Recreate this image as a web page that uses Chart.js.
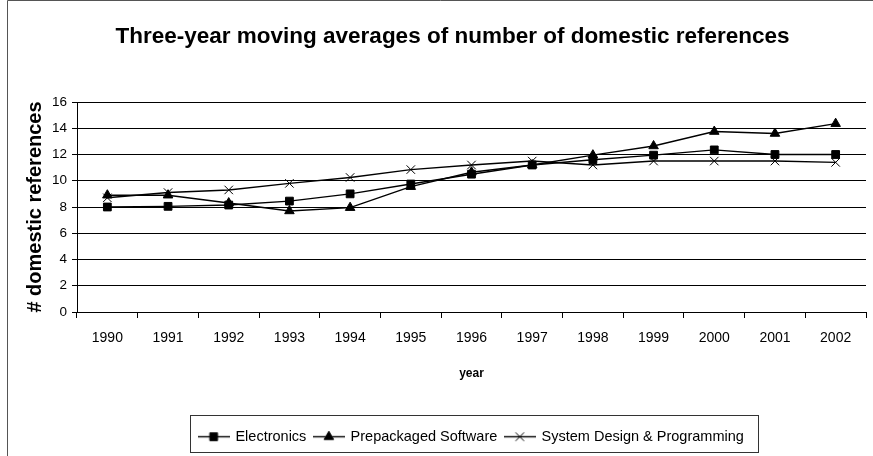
<!DOCTYPE html>
<html>
<head>
<meta charset="utf-8">
<title>Three-year moving averages of number of domestic references</title>
<script src="https://cdn.jsdelivr.net/npm/chart.js@4.4.0/dist/chart.umd.min.js"></script>
<style>
    html, body { margin: 0; padding: 0; background: #fff; overflow: hidden; }
    .chart-box { position: relative; width: 873px; height: 456px; }
</style>
</head>
<body>
<div class="chart-box"><canvas id="refs-chart"></canvas></div>
<script>
const years = ['1990', '1991', '1992', '1993', '1994', '1995', '1996', '1997', '1998', '1999', '2000', '2001', '2002'];
const electronics = [8.0, 8.05, 8.15, 8.45, 9.0, 9.75, 10.5, 11.2, 11.6, 11.95, 12.35, 12.0, 12.0];
const prepackagedSoftware = [8.9, 8.9, 8.3, 7.7, 7.95, 9.55, 10.65, 11.2, 11.95, 12.65, 13.75, 13.6, 14.35];
const systemDesign = [8.7, 9.1, 9.3, 9.8, 10.25, 10.85, 11.2, 11.5, 11.2, 11.5, 11.5, 11.5, 11.4];
const yMin = 0;
const yMax = 16;
const yStep = 2;

const FONT = "'Liberation Sans', Arial, sans-serif";

// legend symbol: short line with the marker in the middle, like Excel
const makeLegendIcon = (pointStyle, radius) => {
    const icon = document.createElement('canvas');
    icon.width = 32;
    icon.height = 13;
    const ctx = icon.getContext('2d');
    ctx.strokeStyle = '#000';
    ctx.fillStyle = '#000';
    ctx.lineWidth = 1.4;
    ctx.beginPath();
    ctx.moveTo(0, 6.5);
    ctx.lineTo(32, 6.5);
    ctx.stroke();
    ctx.lineWidth = 1;
    Chart.helpers.drawPoint(ctx, { pointStyle: pointStyle, radius: radius, rotation: 0, borderWidth: 1 }, 16, 6.5);
    return icon;
};

const series = [
    { label: 'Electronics', data: electronics, pointStyle: 'rect', radius: 5.5 },
    { label: 'Prepackaged Software', data: prepackagedSoftware, pointStyle: 'triangle', radius: 5.5 },
    { label: 'System Design & Programming', data: systemDesign, pointStyle: 'crossRot', radius: 6 }
];
const legendIcons = series.map(s => makeLegendIcon(s.pointStyle, s.radius));

// outer chart border (only left and top edges are in view) + box around the legend
const chartFrame = {
    id: 'chartFrame',
    afterLayout(chart) {
        // Excel centres the title on its own chart area, a bit right of ours
        chart.titleBlock.left += 16;
        chart.titleBlock.right += 16;
    },
    beforeDraw(chart) {
        const ctx = chart.ctx;
        ctx.save();
        ctx.strokeStyle = '#555';
        ctx.lineWidth = 1;
        ctx.beginPath();
        ctx.moveTo(7.5, chart.height);
        ctx.lineTo(7.5, 0.5);
        ctx.lineTo(chart.width, 0.5);
        ctx.stroke();
        ctx.restore();
    },
    afterDraw(chart) {
        const boxes = chart.legend.legendHitBoxes;
        if (!boxes || !boxes.length) return;
        const left = Math.min(...boxes.map(b => b.left)) - 9.5;
        const right = Math.max(...boxes.map(b => b.left + b.width)) + 14;
        const top = boxes[0].top - 14.5;
        const ctx = chart.ctx;
        ctx.save();
        ctx.strokeStyle = '#333';
        ctx.lineWidth = 1;
        ctx.strokeRect(Math.round(left) + 0.5, Math.round(top) + 0.5, Math.round(right - left), 37);
        ctx.restore();
    }
};

new Chart(document.getElementById('refs-chart'), {
    type: 'line',
    data: {
        labels: years,
        datasets: series.map(s => ({
            label: s.label,
            data: s.data,
            borderColor: '#000',
            backgroundColor: '#000',
            borderWidth: 1.4,
            pointStyle: s.pointStyle,
            pointRadius: s.radius,
            pointBorderWidth: 1,
            pointBackgroundColor: '#000',
            pointBorderColor: '#000',
            tension: 0,
            fill: false
        }))
    },
    options: {
        responsive: true,
        maintainAspectRatio: false,
        animation: false,
        layout: { padding: { left: 0, right: 0, top: 0, bottom: 2 } },
        plugins: {
            title: {
                display: true,
                text: 'Three-year moving averages of number of domestic references',
                color: '#000',
                font: { family: FONT, size: 22.5, weight: 'bold' },
                padding: { top: 23, bottom: 52 }
            },
            legend: {
                position: 'bottom',
                fullSize: false,
                labels: {
                    color: '#000',
                    font: { family: FONT, size: 14.5 },
                    usePointStyle: true,
                    pointStyleWidth: 29,
                    padding: 8,
                    generateLabels: chart => Chart.defaults.plugins.legend.labels.generateLabels(chart)
                        .map((item, i) => ({ ...item, pointStyle: legendIcons[i] }))
                }
            },
            tooltip: { enabled: false }
        },
        scales: {
            x: {
                offset: true,
                grid: { display: true, drawOnChartArea: false, drawTicks: true, tickLength: 6, color: '#000', offset: true },
                border: { display: true, color: '#000', width: 1 },
                ticks: { color: '#000', font: { family: FONT, size: 14 }, padding: 12, maxRotation: 0, autoSkip: false },
                title: {
                    display: true,
                    text: 'year',
                    color: '#000',
                    font: { family: FONT, size: 12, weight: 'bold' },
                    padding: { top: 10, bottom: 41 }
                },
                afterFit: scale => { scale.height = 109.5; }
            },
            y: {
                min: yMin,
                max: yMax,
                grid: { color: '#000', lineWidth: 1, drawTicks: true, tickLength: 5 },
                border: { display: true, color: '#000', width: 1 },
                ticks: { stepSize: yStep, color: '#000', font: { family: FONT, size: 13.5 }, padding: 5 },
                title: {
                    display: true,
                    text: '# domestic references',
                    color: '#000',
                    font: { family: FONT, size: 20, weight: 'bold' },
                    padding: { top: 23, bottom: 0 }
                },
                afterFit: scale => { scale.width = 77; }
            }
        }
    },
    plugins: [chartFrame]
});
</script>
</body>
</html>
